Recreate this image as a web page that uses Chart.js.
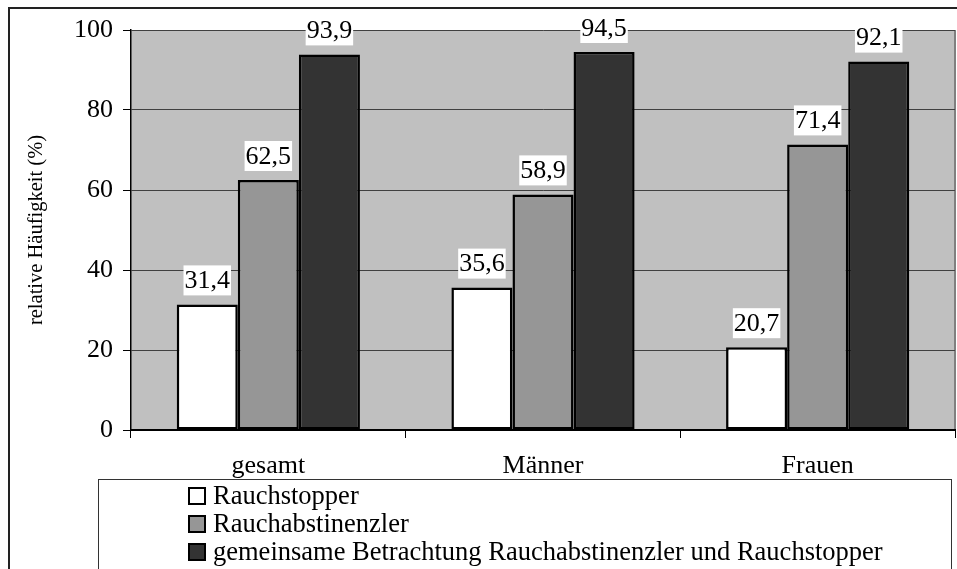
<!DOCTYPE html>
<html>
<head>
<meta charset="utf-8">
<script src="https://cdn.jsdelivr.net/npm/chart.js@4.4.1/dist/chart.umd.min.js"></script>
<style>
  html, body { margin: 0; padding: 0; background: #fff; }
  #wrap { width: 957px; height: 569px; }
</style>
</head>
<body>
<div id="wrap"><canvas id="barChart" width="957" height="569"></canvas></div>
<script>
const categories = ['gesamt', 'Männer', 'Frauen'];
const seriesNames = ['Rauchstopper', 'Rauchabstinenzler', 'gemeinsame Betrachtung Rauchabstinenzler und Rauchstopper'];
const rauchstopper = [31.4, 35.6, 20.7];
const rauchabstinenzler = [62.5, 58.9, 71.4];
const gemeinsam = [93.9, 94.5, 92.1];
const yTicks = [0, 20, 40, 60, 80, 100];
const colors = ['#ffffff', '#969696', '#333333'];

const serif = "'Liberation Serif', 'Times New Roman', serif";

// plot background, outer frame and the legend box
const frame = {
  id: 'frame',
  beforeDraw(chart) {
    const { ctx, chartArea: a } = chart;
    ctx.save();
    ctx.fillStyle = '#c0c0c0';
    ctx.fillRect(a.left, a.top, a.right - a.left, a.bottom - a.top);
    ctx.strokeStyle = '#808080';
    ctx.lineWidth = 2;
    ctx.beginPath();
    ctx.moveTo(a.right, a.top);
    ctx.lineTo(a.right, a.bottom);
    ctx.stroke();
    // outer chart border (cut at right/bottom)
    ctx.strokeStyle = '#222';
    ctx.lineWidth = 2;
    ctx.beginPath();
    ctx.moveTo(9, 580);
    ctx.lineTo(9, 8);
    ctx.lineTo(970, 8);
    ctx.stroke();
    ctx.restore();
  },
  afterDraw(chart) {
    const ctx = chart.ctx;
    ctx.save();
    ctx.strokeStyle = '#333';
    ctx.lineWidth = 1;
    ctx.strokeRect(98.5, 479.5, 853, 120);
    ctx.font = '26.5px ' + serif;
    ctx.textBaseline = 'middle';
    ctx.textAlign = 'left';
    chart.data.datasets.forEach((ds, i) => {
      const cy = 496 + i * 28;
      ctx.fillStyle = ds.backgroundColor;
      ctx.fillRect(189, cy - 8, 16, 16);
      ctx.strokeStyle = '#000';
      ctx.lineWidth = 2;
      ctx.strokeRect(189, cy - 8, 16, 16);
      ctx.fillStyle = '#000';
      ctx.fillText(ds.label, 213, cy + 1);
    });
    ctx.restore();
  }
};

// value labels on white boxes above the bars
const valueLabels = {
  id: 'valueLabels',
  afterDatasetsDraw(chart) {
    const ctx = chart.ctx;
    ctx.save();
    ctx.font = '26px ' + serif;
    ctx.textAlign = 'center';
    ctx.textBaseline = 'middle';
    chart.data.datasets.forEach((ds, di) => {
      chart.getDatasetMeta(di).data.forEach((bar, i) => {
        const txt = ds.data[i].toFixed(1).replace('.', ',');
        const w = ctx.measureText(txt).width + 2;
        const cy = bar.y - 24;
        ctx.fillStyle = '#fff';
        ctx.fillRect(bar.x - w / 2, cy - 15, w, 30);
        ctx.fillStyle = '#000';
        ctx.fillText(txt, bar.x, cy + 1);
      });
    });
    ctx.restore();
  }
};

const ctx = document.getElementById('barChart').getContext('2d');
new Chart(ctx, {
  type: 'bar',
  data: {
    labels: categories,
    datasets: [rauchstopper, rauchabstinenzler, gemeinsam].map((vals, i) => ({
      label: seriesNames[i],
      data: vals,
      backgroundColor: colors[i],
      borderColor: '#000',
      borderWidth: 2.5,
      borderSkipped: false,
      categoryPercentage: 0.667,
      barPercentage: 1
    }))
  },
  options: {
    responsive: false,
    animation: false,
    devicePixelRatio: 1,
    layout: { padding: { top: 30, right: 2, bottom: 0, left: 0 } },
    plugins: {
      legend: { display: false },
      tooltip: { enabled: false }
    },
    scales: {
      x: {
        grid: { offset: true, drawOnChartArea: false, tickLength: 8, color: '#000', tickColor: '#000' },
        border: { color: '#000', width: 2 },
        ticks: { color: '#000', font: { family: serif, size: 26 }, padding: 13 },
        afterFit(s) { s.height = 139; }
      },
      y: {
        min: 0,
        max: 100,
        afterBuildTicks(s) { s.ticks = yTicks.map(v => ({ value: v })); },
        grid: { color: '#404040', tickColor: '#000', tickLength: 8, lineWidth: 1 },
        border: { color: '#000', width: 1.5 },
        ticks: { color: '#000', font: { family: serif, size: 26 }, padding: 10 },
        title: {
          display: true,
          text: 'relative Häufigkeit (%)',
          color: '#000',
          font: { family: serif, size: 20.5 },
          padding: { top: 24, bottom: 0 }
        },
        afterFit(s) { s.width = 131; }
      }
    }
  },
  plugins: [frame, valueLabels]
});
</script>
</body>
</html>
